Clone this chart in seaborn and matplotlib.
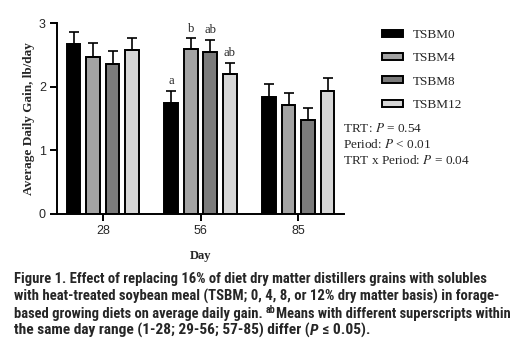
import matplotlib
matplotlib.use("Agg")
import matplotlib.pyplot as plt
import seaborn as sns
import pandas as pd
import numpy as np
from matplotlib import font_manager

days = ["28", "56", "85"]
treatments = ["TSBM0", "TSBM4", "TSBM8", "TSBM12"]
adg = {
    "TSBM0": [2.67, 1.75, 1.84],
    "TSBM4": [2.47, 2.59, 1.71],
    "TSBM8": [2.36, 2.55, 1.47],
    "TSBM12": [2.57, 2.20, 1.93],
}
sem = {
    "TSBM0": [0.19, 0.18, 0.20],
    "TSBM4": [0.21, 0.17, 0.19],
    "TSBM8": [0.20, 0.18, 0.19],
    "TSBM12": [0.20, 0.18, 0.20],
}
letters = {("56", "TSBM0"): "a", ("56", "TSBM4"): "b", ("56", "TSBM8"): "ab", ("56", "TSBM12"): "ab"}
colors = ["#000000", "#a3a3a3", "#7b7b7b", "#d6d6d6"]
yticks = [0, 1, 2, 3]

sns.set_style("ticks")

names = {f.name for f in font_manager.fontManager.ttflist}
cap_font = "Liberation Sans"
for cand in ["Roboto Condensed", "Liberation Sans Narrow", "Open Sans Condensed", "Noto Sans Condensed"]:
    if cand in names:
        cap_font = cand
        break
cap_size = 11.1 if cap_font != "Liberation Sans" else 9.2

rows = []
for t in treatments:
    for d, v in zip(days, adg[t]):
        rows.append({"Day": d, "Treatment": t, "ADG": v})
df = pd.DataFrame(rows)

fig = plt.figure(figsize=(5.32, 3.45), dpi=100)
ax = fig.add_axes([0.107, 0.380, 0.540, 0.553])

sns.barplot(data=df, x="Day", y="ADG", hue="Treatment", order=days, hue_order=treatments,
            palette=colors, width=0.8, gap=0.3, edgecolor="black", linewidth=1.4,
            errorbar=None, ax=ax, legend=True)

for t, cont in zip(treatments, ax.containers):
    for d, bar, e in zip(days, cont, sem[t]):
        xc = bar.get_x() + bar.get_width() / 2
        h = bar.get_height()
        ax.errorbar([xc], [h], yerr=[[0], [e]], fmt="none", ecolor="black",
                    elinewidth=1.2, capsize=3.5, capthick=1.2, zorder=1)
        lab = letters.get((d, t))
        if lab:
            ax.text(xc, h + e + 0.06, lab, ha="center", va="bottom",
                    fontfamily="Liberation Serif", fontsize=9)

ax.set_xlim(-0.47, 2.47)
ax.set_ylim(0, 3)
ax.set_yticks(yticks)
ax.set_yticklabels([str(v) for v in yticks], fontfamily="Liberation Sans", fontsize=9)
ax.set_xticks(range(len(days)))
ax.set_xticklabels(days, fontfamily="Liberation Sans", fontsize=9)
ax.tick_params(axis="both", direction="out", length=5, width=1.4, color="black", pad=3)
for s in ["left", "bottom"]:
    ax.spines[s].set_linewidth(1.4)
    ax.spines[s].set_color("black")
sns.despine(ax=ax)
ax.set_ylabel("Average Daily Gain, lb/day", fontfamily="Liberation Serif",
              fontweight="bold", fontsize=9.5, labelpad=3)
ax.set_xlabel("Day", fontfamily="Liberation Serif", fontweight="bold", fontsize=9, labelpad=9)

handles, labels = ax.get_legend_handles_labels()
ax.get_legend().remove()
leg = fig.legend(handles, labels, loc="upper left", bbox_to_anchor=(0.696, 0.95),
                 frameon=False, prop={"family": "Liberation Serif", "size": 9.5},
                 handlelength=1.6, handleheight=0.45, handletextpad=0.75, labelspacing=0.85)
for h in leg.legend_handles:
    h.set_edgecolor("black")
    h.set_linewidth(1.4)

stats = ["TRT: $P$ = 0.54", "Period: $P$ < 0.01", "TRT x Period: $P$ = 0.04"]
for i, s in enumerate(stats):
    fig.text(0.645, 1 - (128 + 16 * i) / 345, s, fontfamily="Liberation Serif", fontsize=9.5,
             math_fontfamily="stix", va="center", ha="left")

cap_kw = dict(fontfamily=[cap_font, "DejaVu Sans"], fontweight="bold", va="baseline", ha="left")
caption_runs = [
    [("Figure 1. Effect of replacing 16% of diet dry matter distillers grains with solubles", 0)],
    [("with heat-treated soybean meal (TSBM; 0, 4, 8, or 12% dry matter basis) in forage-", 0)],
    [("based growing diets on average daily gain. ", 0), ("ab", 1),
     ("Means with different superscripts within", 0)],
    [("the same day range (1-28; 29-56; 57-85) differ (", 0), ("P", 2), (" \u2264 0.05).", 0)],
]
line_right = [486, 497, 508, None]
renderer = fig.canvas.get_renderer()
x0 = 14.0


def draw_line(runs, y, size):
    x = x0
    arts = []
    for txt, kind in runs:
        s = size * (0.68 if kind == 1 else 1.0)
        yy = y - (size * 0.45 if kind == 1 else 0)
        t = fig.text(x / 532, 1 - yy / 345, txt, fontsize=s,
                     style="italic" if kind == 2 else "normal", **cap_kw)
        bb = t.get_window_extent(renderer=renderer)
        x += bb.width + (1 if kind == 2 else 0)
        arts.append(t)
    return arts, x


for i, runs in enumerate(caption_runs):
    y = 283 + 17.3 * i
    arts, xe = draw_line(runs, y, cap_size)
    if line_right[i] is not None:
        for a in arts:
            a.remove()
        size = cap_size * (line_right[i] - x0) / (xe - x0)
        draw_line(runs, y, size)

fig.savefig("out.png", dpi=100)
